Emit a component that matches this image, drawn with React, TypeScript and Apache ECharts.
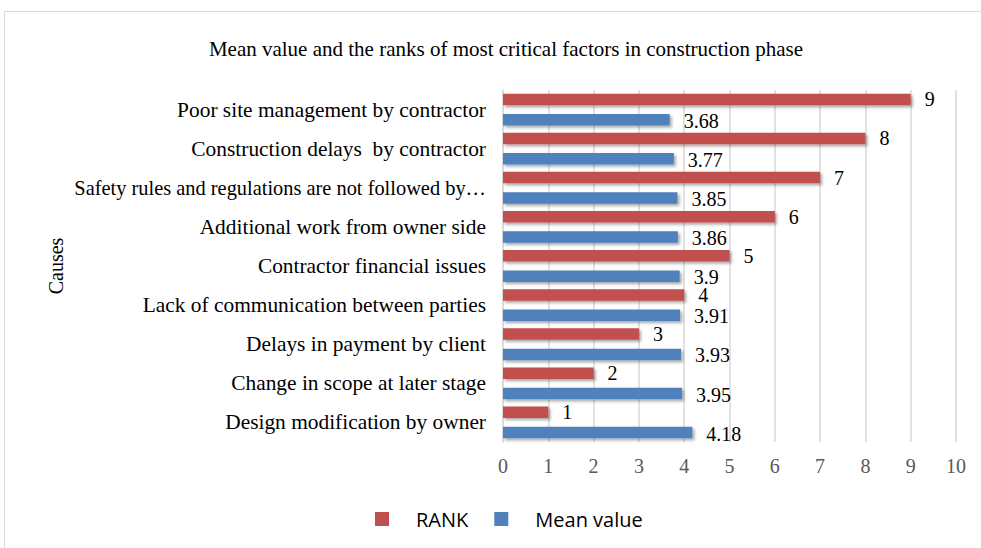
import React, { useEffect, useRef } from "react";
import * as echarts from "echarts";

const categories = [
  "Design modification by owner",
  "Change in scope at later stage",
  "Delays in payment by client",
  "Lack of communication between parties",
  "Contractor financial issues",
  "Additional work from owner side",
  "Safety rules and regulations are not followed by contractor",
  "Construction delays  by contractor",
  "Poor site management by contractor",
];
const rankValues = [1, 2, 3, 4, 5, 6, 7, 8, 9];
const meanValues = [4.18, 3.95, 3.93, 3.91, 3.9, 3.86, 3.85, 3.77, 3.68];
const xTicks = { min: 0, max: 10, interval: 1 };

const serif = "'Liberation Serif', 'Times New Roman', serif";
const MAX_LABEL_CHARS = 51;

export default function App() {
  const ref = useRef<HTMLDivElement>(null);
  useEffect(() => {
    if (!ref.current) return;
    const chart = echarts.init(ref.current, undefined, { renderer: "svg" });
    const shadow = {
      shadowColor: "rgba(0,0,0,0.35)",
      shadowBlur: 3,
      shadowOffsetX: 2,
      shadowOffsetY: 2,
    };
    const label = {
      show: true,
      position: "right",
      distance: 14,
      fontFamily: serif,
      fontSize: 20,
      lineHeight: 18,
      color: "#000",
    };
    chart.setOption({
      animation: false,
      backgroundColor: "#ffffff",
      title: {
        text: "Mean value and the ranks of most critical factors in construction phase",
        left: 501,
        textAlign: "center",
        top: 33,
        textStyle: { fontFamily: serif, fontSize: 21, fontWeight: "normal", color: "#000" },
      },
      graphic: [
        {
          type: "rect",
          shape: { x: 4.5, y: 11.5, width: 1000, height: 600 },
          style: { fill: "none", stroke: "#d9d9d9", lineWidth: 1 },
          silent: true,
        },
      ],
      legend: {
        data: ["RANK", "Mean value"],
        top: 504,
        left: 370,
        icon: "rect",
        itemWidth: 14,
        itemHeight: 14,
        itemGap: 26,
        textStyle: {
          fontFamily: "'Open Sans', 'Noto Sans', sans-serif",
          fontSize: 20,
          color: "#000",
          padding: [0, 0, 0, 22],
        },
      },
      grid: { left: 503, right: 25, top: 90, bottom: 106, containLabel: false },
      xAxis: {
        type: "value",
        min: xTicks.min,
        max: xTicks.max,
        interval: xTicks.interval,
        axisLine: { show: false },
        axisTick: { show: false },
        splitLine: { show: true, lineStyle: { color: "#d9d9d9", width: 1.5 } },
        axisLabel: { fontFamily: serif, fontSize: 20, color: "#595959", margin: 14 },
      },
      yAxis: {
        type: "category",
        data: categories,
        name: "Causes",
        nameLocation: "middle",
        nameRotate: 90,
        nameGap: 437,
        nameMoveOverlap: false,
        nameTextStyle: { fontFamily: serif, fontSize: 20, color: "#000" },
        axisLine: { show: true, lineStyle: { color: "#d9d9d9", width: 1.5 } },
        axisTick: { show: false },
        axisLabel: {
          fontFamily: serif,
          fontSize: 21.4,
          color: "#000",
          margin: 17,
          formatter: (v: string) =>
            v.length > MAX_LABEL_CHARS
              ? "{s|" + v.slice(0, MAX_LABEL_CHARS - 3).trimEnd() + "…}"
              : v,
          rich: {
            s: { fontFamily: serif, fontSize: 20.4, color: "#000" },
          },
        },
      },
      series: [
        {
          name: "RANK",
          type: "bar",
          data: rankValues,
          barWidth: 11.5,
          barGap: "77%",
          itemStyle: { color: "#C0504D", ...shadow },
          label: { ...label, offset: [0, 0] },
        },
        {
          name: "Mean value",
          type: "bar",
          data: meanValues,
          barWidth: 11.5,
          barGap: "77%",
          itemStyle: { color: "#4F81BD", ...shadow },
          label: { ...label, offset: [0, 1] },
        },
      ],
    });
    return () => chart.dispose();
  }, []);
  return (
    <div
      ref={ref}
      style={{ position: "fixed", left: 0, top: 0, width: 981, height: 548 }}
    />
  );
}
